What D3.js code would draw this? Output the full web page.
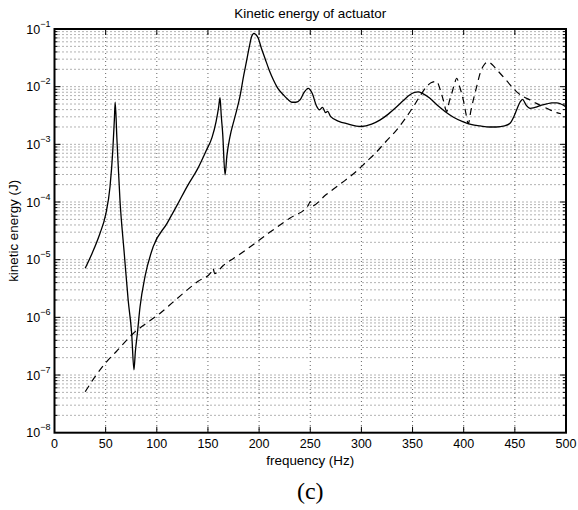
<!DOCTYPE html>
<html><head><meta charset="utf-8">
<script src="https://cdn.jsdelivr.net/npm/d3@7"></script>
<style>body{margin:0;background:#fff} text{font-family:"Liberation Sans",Arial,Helvetica,sans-serif;fill:#000}</style>
</head><body><svg id="c" width="578" height="510"></svg>
<script>
const titleText = "Kinetic energy of actuator";
const xLabelText = "frequency (Hz)";
const yLabelText = "kinetic energy (J)";
const captionText = "(c)";
const xTicks = [0,50,100,150,200,250,300,350,400,450,500];
const yDecades = [-8,-7,-6,-5,-4,-3,-2,-1];

const solidFreq = [30,37,44.5,50,54.3,57,58.5,59.3,61,64,68,72,75.4,77.7,79,81,83.6,88.5,96.6,110,120,130,140,148,154,158,160.5,161.8,163,164.4,166.7,168.5,171.5,176,181.3,185,187.9,190.5,192.7,195,197,199.2,202,205.8,210,213.9,218,223.7,228,231.9,236,240,244,248,252,256,259,262,265,267,270,278,285.6,300,310,318,326,334.5,341,347.5,352,355.6,360,367,374,381.7,390,399.6,408,416,425,432,440,445,449,451.8,455,457.6,461,464.9,468,471.4,476,481,486,490.9,495,500];
const solidEnergy = [7.08e-6,1.32e-5,2.88e-5,6.03e-5,1.86e-4,7.94e-4,2.63e-3,5.37e-3,1.26e-3,1.07e-4,1.41e-5,2.0e-6,5.37e-7,1.23e-7,2.51e-7,5.25e-7,1.51e-6,5.13e-6,1.70e-5,4.27e-5,8.91e-5,1.91e-4,3.80e-4,7.59e-4,1.32e-3,2.51e-3,4.47e-3,6.46e-3,3.16e-3,1.55e-3,2.95e-4,6.31e-4,1.35e-3,2.82e-3,6.76e-3,1.58e-2,2.88e-2,5.01e-2,7.41e-2,8.41e-2,7.94e-2,6.92e-2,4.79e-2,3.09e-2,1.91e-2,1.32e-2,9.55e-3,7.24e-3,6.03e-3,5.37e-3,5.37e-3,5.89e-3,7.94e-3,9.33e-3,7.59e-3,4.68e-3,3.98e-3,4.37e-3,3.55e-3,3.72e-3,3.02e-3,2.51e-3,2.29e-3,2.04e-3,2.24e-3,2.63e-3,3.31e-3,4.47e-3,5.75e-3,7.24e-3,7.94e-3,8.13e-3,7.59e-3,6.31e-3,4.79e-3,3.72e-3,2.95e-3,2.45e-3,2.19e-3,2.09e-3,2.0e-3,2.0e-3,2.09e-3,2.29e-3,3.02e-3,3.98e-3,5.37e-3,6.03e-3,4.79e-3,4.22e-3,4.27e-3,4.47e-3,4.79e-3,5.01e-3,5.25e-3,5.25e-3,5.01e-3,4.47e-3];

const dashedFreq = [30,40,49.4,60,77,90,103,115,126,140,153,155,156.5,165,180,191,210,230,248,250,251.5,265,280,295,305,313.3,324,334.5,343,350.7,357,363.8,368,373.6,377,380,383.4,386,388.3,391,393.2,396,399.6,402,404.5,407,409.4,413,416,420,424,428,432,438.7,445,451.8,458,464.9,471,477.9,484,490.9,495];
const dashedEnergy = [5.13e-8,9.55e-8,1.58e-7,2.51e-7,5.25e-7,7.94e-7,1.17e-6,1.78e-6,2.63e-6,4.17e-6,6.03e-6,7.08e-6,5.75e-6,7.94e-6,1.20e-5,1.66e-5,2.95e-5,5.25e-5,8.71e-5,1.02e-4,8.51e-5,1.32e-4,2.09e-4,3.39e-4,5.01e-4,6.92e-4,1.12e-3,1.78e-3,2.82e-3,4.47e-3,6.76e-3,1.0e-2,1.17e-2,1.23e-2,8.91e-3,5.89e-3,3.72e-3,5.62e-3,7.59e-3,1.12e-2,1.40e-2,1.0e-2,5.89e-3,3.55e-3,2.29e-3,3.80e-3,5.89e-3,1.05e-2,1.70e-2,2.40e-2,2.69e-2,2.40e-2,2.0e-2,1.48e-2,1.10e-2,8.13e-3,6.76e-3,5.89e-3,5.13e-3,4.47e-3,3.98e-3,3.55e-3,3.39e-3];

const L = 54.5, R = 566, T = 29, B = 432.7;
const svg = d3.select("#c");
const x = d3.scaleLinear().domain([0,500]).range([L,R]);
const y = d3.scaleLog().domain([1e-8,1e-1]).range([B,T]);

// grid
const g = svg.append("g");
const minorVals = [];
yDecades.forEach(d => { for (let m=1;m<=9;m++){ const v = m*Math.pow(10,d); if (v<=1e-1 && v>1e-8) minorVals.push(v);} });
g.selectAll("line.hg").data(minorVals).enter().append("line")
  .attr("x1",L).attr("x2",R).attr("y1",d=>y(d)).attr("y2",d=>y(d))
  .attr("stroke","#555").attr("stroke-width",0.9).attr("stroke-dasharray","1,3");
g.selectAll("line.vg").data(xTicks.filter(t=>t>0&&t<500)).enter().append("line")
  .attr("x1",d=>x(d)).attr("x2",d=>x(d)).attr("y1",T).attr("y2",B)
  .attr("stroke","#555").attr("stroke-width",0.9).attr("stroke-dasharray","1,3");

// curves
const line = d3.line().x(d=>x(d[0])).y(d=>y(d[1])).curve(d3.curveMonotoneX);
svg.append("path").datum(solidFreq.map((f,i)=>[f,solidEnergy[i]]))
  .attr("d",line).attr("fill","none").attr("stroke","#000").attr("stroke-width",1.3);
svg.append("path").datum(dashedFreq.map((f,i)=>[f,dashedEnergy[i]]))
  .attr("d",line).attr("fill","none").attr("stroke","#000").attr("stroke-width",1.2).attr("stroke-dasharray","7,5");

// ticks (inward, all four sides)
const tk = svg.append("g").attr("stroke","#000").attr("stroke-width",1);
xTicks.forEach(t => {
  tk.append("line").attr("x1",x(t)).attr("x2",x(t)).attr("y1",B).attr("y2",B-6);
  tk.append("line").attr("x1",x(t)).attr("x2",x(t)).attr("y1",T).attr("y2",T+6);
});
minorVals.forEach(v => {
  const isMajor = Math.abs(Math.log10(v) - Math.round(Math.log10(v))) < 1e-9;
  const len = isMajor ? 6 : 3;
  tk.append("line").attr("x1",L).attr("x2",L+len).attr("y1",y(v)).attr("y2",y(v));
  tk.append("line").attr("x1",R).attr("x2",R-len).attr("y1",y(v)).attr("y2",y(v));
});

// frame
svg.append("rect").attr("x",L).attr("y",T).attr("width",R-L).attr("height",B-T)
  .attr("fill","none").attr("stroke","#000").attr("stroke-width",2);

// x tick labels
svg.selectAll("text.xt").data(xTicks).enter().append("text")
  .attr("x",d=>x(d)).attr("y",B+15.5).attr("text-anchor","middle").attr("font-size",12.5)
  .text(d=>d);

// y tick labels
yDecades.forEach(d => {
  const yy = y(Math.pow(10,d));
  const t = svg.append("text").attr("x",L-4).attr("y",yy+4.5).attr("text-anchor","end").attr("font-size",12.5);
  t.append("tspan").text("10");
  t.append("tspan").attr("dy",-7).attr("font-size",9).text("\u2212"+(-d));
});

// title and labels
svg.append("text").attr("x",(L+R)/2).attr("y",17.5).attr("text-anchor","middle").attr("font-size",13.4).text(titleText);
svg.append("text").attr("x",(L+R)/2).attr("y",465).attr("text-anchor","middle").attr("font-size",13.4).text(xLabelText);
svg.append("text").attr("transform",`translate(18,${(T+B)/2}) rotate(-90)`).attr("text-anchor","middle").attr("font-size",13.4).text(yLabelText);
svg.append("text").attr("x",(L+R)/2).attr("y",499).attr("text-anchor","middle")
  .style("font-family","'Liberation Serif','Times New Roman',serif").attr("font-size",24).text(captionText);
</script></body></html>
